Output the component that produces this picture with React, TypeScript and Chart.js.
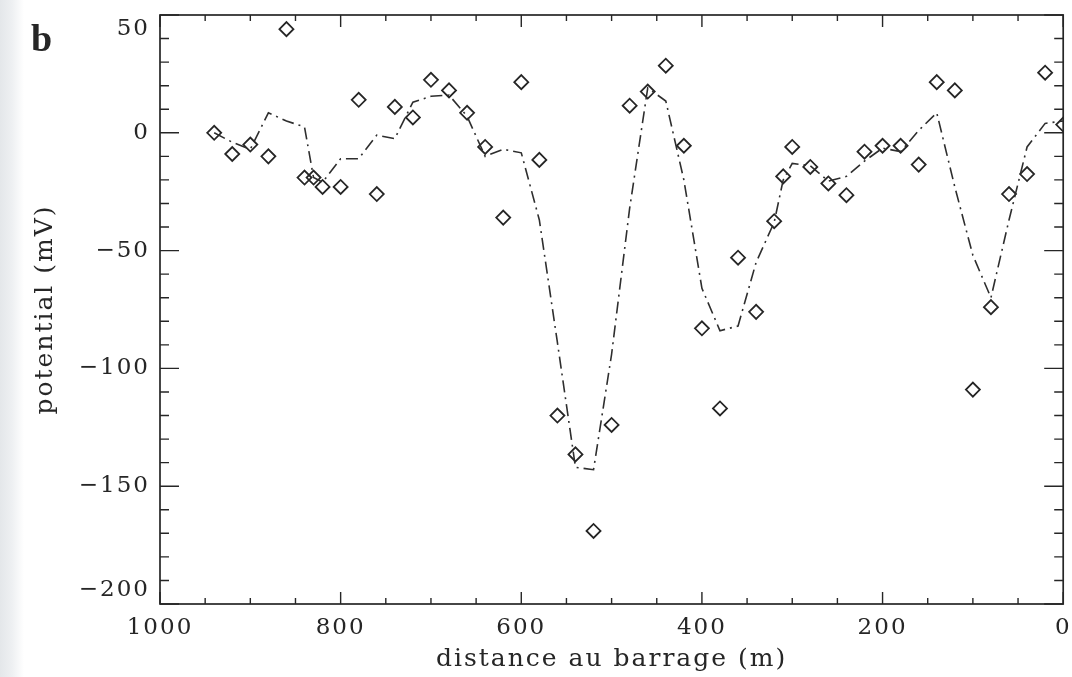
import React, { useEffect, useRef } from 'react';
import { Chart, registerables } from 'chart.js';

Chart.register(...registerables);

// distance from the dam (m)
const distances = [
  940, 920, 900, 880, 860, 840, 830, 820, 800, 780, 760, 740, 720, 700, 680, 660, 640, 620,
  600, 580, 560, 540, 520, 500, 480, 460, 440, 420, 400, 380, 360, 340, 320, 310, 300, 280,
  260, 240, 220, 200, 180, 160, 140, 120, 100, 80, 60, 40, 20, 0,
];

// measured potential (mV), diamonds
const measured = [
  0, -9, -5, -10, 44, -19, -19, -23, -23, 14, -26, 11, 6.5, 22.5, 18, 8.5, -6, -36,
  21.5, -11.5, -120, -136.5, -169, -124, 11.5, 17.5, 28.5, -5.5, -83, -117, -53, -76, -37.5, -18.5, -6, -14.5,
  -21.5, -26.5, -8, -5.5, -5.5, -13.5, 21.5, 18, -109, -74, -26, -17.5, 25.5, 3.5,
];

// smoothed potential (mV), dash-dot curve
const smoothed = [
  0, -4, -7, 8.5, 5, 2.5, -19, -21, -11, -11, -1, -2.5, 13, 15.5, 16, 7, -10, -7,
  -8.5, -37, -89, -142, -143, -94, -32, 19, 13.5, -20, -66, -84, -82, -55, -38, -20, -13, -14,
  -20.5, -18.5, -12, -6.5, -8, 1, 8.5, -23, -52, -70, -37, -6, 4, 5,
];

const xTickValues = [1000, 800, 600, 400, 200, 0];
const yTickValues = [50, 0, -50, -100, -150, -200];
const xTitle = 'distance au barrage (m)';
const yTitle = 'potential (mV)';
const panelLabel = 'b';

const INK = '#262626';
const SPACING = '2px';

const spacingPlugin = {
  id: 'spacing',
  beforeLayout(chart: any) {
    chart.ctx.letterSpacing = SPACING;
  },
  beforeDraw(chart: any) {
    chart.ctx.letterSpacing = SPACING;
  },
};

const framePlugin = {
  id: 'frame',
  afterDatasetsDraw(chart: any) {
    const { ctx, chartArea, scales } = chart;
    const { left, right, top, bottom } = chartArea;
    const x = scales.x;
    const y = scales.y;
    ctx.save();
    ctx.strokeStyle = INK;
    ctx.lineWidth = 1.7;
    ctx.strokeRect(left, top, right - left, bottom - top);
    ctx.lineWidth = 1.4;
    ctx.beginPath();
    for (let v = -200; v <= 50; v += 10) {
      const py = y.getPixelForValue(v);
      const len = v % 50 === 0 ? 19 : 9;
      ctx.moveTo(left, py);
      ctx.lineTo(left + len, py);
      ctx.moveTo(right, py);
      ctx.lineTo(right - len, py);
    }
    for (let d = 0; d <= 1000; d += 50) {
      const px = x.getPixelForValue(d);
      const len = d % 200 === 0 ? 12 : 6;
      ctx.moveTo(px, bottom);
      ctx.lineTo(px, bottom - len);
      ctx.moveTo(px, top);
      ctx.lineTo(px, top + len);
    }
    ctx.stroke();
    ctx.letterSpacing = '0px';
    ctx.fillStyle = INK;
    ctx.font = 'bold 38px "Liberation Serif", serif';
    ctx.textAlign = 'left';
    ctx.textBaseline = 'alphabetic';
    ctx.fillText(panelLabel, 31, 51);
    ctx.restore();
  },
};

export default function App() {
  const ref = useRef<HTMLCanvasElement | null>(null);

  useEffect(() => {
    if (!ref.current) return;
    const scatterData = distances.map((d, i) => ({ x: d, y: measured[i] }));
    const lineData = distances.map((d, i) => ({ x: d, y: smoothed[i] }));
    const tickFont = { family: '"DejaVu Serif", serif', size: 23 };
    const titleFont = { family: '"DejaVu Serif", serif', size: 25 };

    const chart = new Chart(ref.current, {
      type: 'scatter',
      data: {
        datasets: [
          {
            label: 'smoothed',
            data: lineData,
            showLine: true,
            borderColor: '#2e2e2e',
            borderWidth: 1.6,
            borderDash: [12, 5, 2, 5],
            pointRadius: 0,
            tension: 0,
            fill: false,
          },
          {
            label: 'measured',
            data: scatterData,
            showLine: false,
            pointStyle: 'rectRot',
            pointRadius: 7,
            pointBorderWidth: 1.8,
            pointBorderColor: INK,
            pointBackgroundColor: 'rgba(0,0,0,0)',
            borderColor: INK,
            backgroundColor: 'rgba(0,0,0,0)',
          },
        ],
      },
      options: {
        animation: false,
        responsive: false,
        devicePixelRatio: 1,
        layout: { padding: { top: 15, right: 5, left: 0, bottom: 0 } },
        plugins: {
          legend: { display: false },
          tooltip: { enabled: false },
        },
        scales: {
          x: {
            type: 'linear',
            reverse: true,
            min: 0,
            max: 1000,
            afterFit: (s: any) => {
              s.height = 73;
              s.paddingLeft = 0;
              s.paddingRight = 0;
            },
            afterBuildTicks: (s: any) => {
              s.ticks = xTickValues.map((v) => ({ value: v }));
            },
            grid: { display: false, drawTicks: false },
            border: { display: false },
            ticks: {
              autoSkip: false,
              maxRotation: 0,
              padding: 10,
              color: INK,
              font: tickFont,
              callback: (v: any) => String(v),
            },
            title: {
              display: true,
              text: xTitle,
              color: INK,
              font: titleFont,
              padding: { top: 0, bottom: 3 },
            },
          },
          y: {
            type: 'linear',
            min: -200,
            max: 50,
            afterFit: (s: any) => {
              s.width = 160;
              s.paddingTop = 0;
              s.paddingBottom = 0;
            },
            afterBuildTicks: (s: any) => {
              s.ticks = yTickValues.map((v) => ({ value: v }));
            },
            grid: { display: false, drawTicks: false },
            border: { display: false },
            ticks: {
              autoSkip: false,
              padding: 10,
              color: INK,
              font: tickFont,
              callback: (v: any) => {
                const s = String(v).replace('-', '\u2212');
                if (v === 50) return ['', s];
                if (v === -200) return [s, ''];
                return s;
              },
            },
            title: {
              display: true,
              text: yTitle,
              color: INK,
              font: titleFont,
              padding: { top: 30, bottom: 0 },
            },
          },
        },
      },
      plugins: [spacingPlugin, framePlugin],
    });
    return () => chart.destroy();
  }, []);

  return (
    <div
      style={{
        position: 'absolute',
        left: 0,
        top: 0,
        width: 1072,
        height: 677,
        background: 'linear-gradient(to right, #e4e7ea 0px, #eef0f2 12px, #ffffff 24px)',
      }}
    >
      <canvas ref={ref} width={1072} height={677} style={{ display: 'block' }} />
    </div>
  );
}
